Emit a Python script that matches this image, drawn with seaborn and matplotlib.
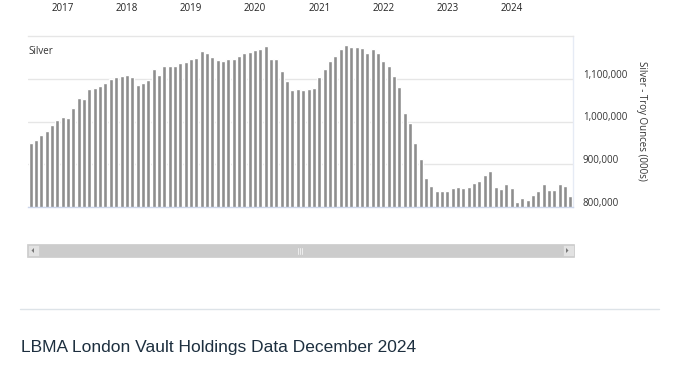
import pandas as pd
import matplotlib.pyplot as plt
import matplotlib.transforms as mtransforms
from matplotlib.patches import Rectangle, Polygon
from matplotlib.lines import Line2D
import seaborn as sns

# monthly LBMA silver holdings, thousand troy ounces (Jul 2016 - Dec 2024)
months = list(pd.date_range('2016-07-01', '2024-12-01', freq='MS').strftime('%Y-%m'))
silver = [950800, 956300, 968800, 976700, 992400, 1003400, 1010500, 1008900,
          1031700, 1056000, 1053700, 1074900, 1078800, 1081900, 1089800, 1098400,
          1103100, 1107100, 1108600, 1104700, 1085800, 1089800, 1097600, 1122000,
          1108600, 1129000, 1129000, 1129000, 1137700, 1139200, 1146300, 1147900,
          1165100, 1160400, 1151800, 1144700, 1140800, 1146300, 1146300, 1153400,
          1161200, 1163600, 1167500, 1170700, 1176200, 1146300, 1146300, 1117300,
          1093700, 1073300, 1075300, 1073700, 1075300, 1079200, 1103400, 1123700,
          1142500, 1152700, 1170700, 1178500, 1174600, 1174600, 1173000, 1159700,
          1169100, 1159700, 1141000, 1130000, 1107300, 1080700, 1019000, 996300,
          948600, 913400, 868800, 850000, 838300, 838300, 838300, 844600,
          846100, 845400, 846100, 857100, 861800, 875900, 885200, 846100,
          842200, 854000, 844600, 812500, 821900, 815600, 828900, 838300,
          854000, 840700, 840700, 854000, 848500, 825800]
years = ['2017', '2018', '2019', '2020', '2021', '2022', '2023', '2024']
yticks = [800000, 900000, 1000000, 1100000]

year_pos = [months.index(y + '-01') for y in years]

W, H = 673, 369
sns.set_theme(style='white')
plt.rcParams['font.family'] = ['Open Sans', 'DejaVu Sans']

fig = plt.figure(figsize=(W / 100, H / 100), dpi=100)
fig.patch.set_facecolor('white')

def fx(px):
    return px / W

def fy(py):
    return 1 - py / H

ax = fig.add_axes([fx(28), fy(207), fx(545), (207 - 36) / H])
sns.barplot(x=months, y=silver, color='#8e8e8e', saturation=1, width=0.75, ax=ax)
ax.set_xlim(-0.5, len(months) - 0.5)
ax.set_ylim(800000, 1200000)

# gridlines
ax.set_yticks(yticks)
ax.yaxis.grid(True, color='#e6e6e6', linewidth=1)
ax.set_axisbelow(True)
ax.spines['left'].set_visible(False)
ax.spines['top'].set_color('#e6e6e6')
ax.spines['right'].set_color('#e6ebf5')
ax.spines['bottom'].set_color('#ccd6eb')
for s in ['top', 'right', 'bottom']:
    ax.spines[s].set_linewidth(1)

# right y axis
ax.yaxis.tick_right()
ax.set_yticklabels([f'{v:,}' for v in yticks])
ax.tick_params(axis='y', length=0, pad=7, labelsize=7, labelcolor='#333333')
offset = mtransforms.ScaledTranslation(0, 5 / 100, fig.dpi_scale_trans)
for t in ax.yaxis.get_major_ticks():
    t.label2.set_transform(t.label2.get_transform() + offset)
    t.label2.set_horizontalalignment('left')
ax.set_ylabel('')

# year labels on top
ax.xaxis.tick_top()
ax.set_xticks(year_pos)
ax.set_xticklabels(years)
ax.tick_params(axis='x', length=0, pad=15.5, labelsize=7, labelcolor='#222222')
ax.set_xlabel('')

ax.text(0.0, 0.91, 'Silver', transform=ax.transAxes, fontsize=7, color='#333333',
        ha='left', va='center')
fig.text(fx(641), fy(121), 'Silver - Troy Ounces (000s)', rotation=270,
         ha='center', va='center', fontsize=7, color='#333333')

# scrollbar
fig.patches.append(Rectangle((fx(27), fy(257)), fx(547), 13 / H, transform=fig.transFigure,
                             facecolor='#cccccc', edgecolor='#cccccc', linewidth=0.5))
for x0 in [27, 562]:
    fig.patches.append(Rectangle((fx(x0 + 1), fy(256)), fx(11), 11 / H, transform=fig.transFigure,
                                 facecolor='#e2e2e2', edgecolor='#cccccc', linewidth=0.5))
fig.patches.append(Polygon([(fx(34), fy(248)), (fx(34), fy(253)), (fx(31.5), fy(250.5))],
                           closed=True, transform=fig.transFigure, facecolor='#777777', edgecolor='none'))
fig.patches.append(Polygon([(fx(566), fy(248)), (fx(566), fy(253)), (fx(568.5), fy(250.5))],
                           closed=True, transform=fig.transFigure, facecolor='#777777', edgecolor='none'))
for gx in [298, 300, 302]:
    fig.lines.append(Line2D([fx(gx), fx(gx)], [fy(247.5), fy(253.5)], transform=fig.transFigure,
                            color='#eeeeee', linewidth=0.7))

# separator and heading
fig.lines.append(Line2D([fx(20), fx(659)], [fy(309), fy(309)], transform=fig.transFigure,
                        color='#dde3e8', linewidth=1))
fig.text(fx(21), fy(347.5), 'LBMA London Vault Holdings Data December 2024',
         family=['Liberation Sans', 'DejaVu Sans'], fontsize=12.5, color='#1d2f3f',
         ha='left', va='center')

plt.savefig('out.png', dpi=100)
